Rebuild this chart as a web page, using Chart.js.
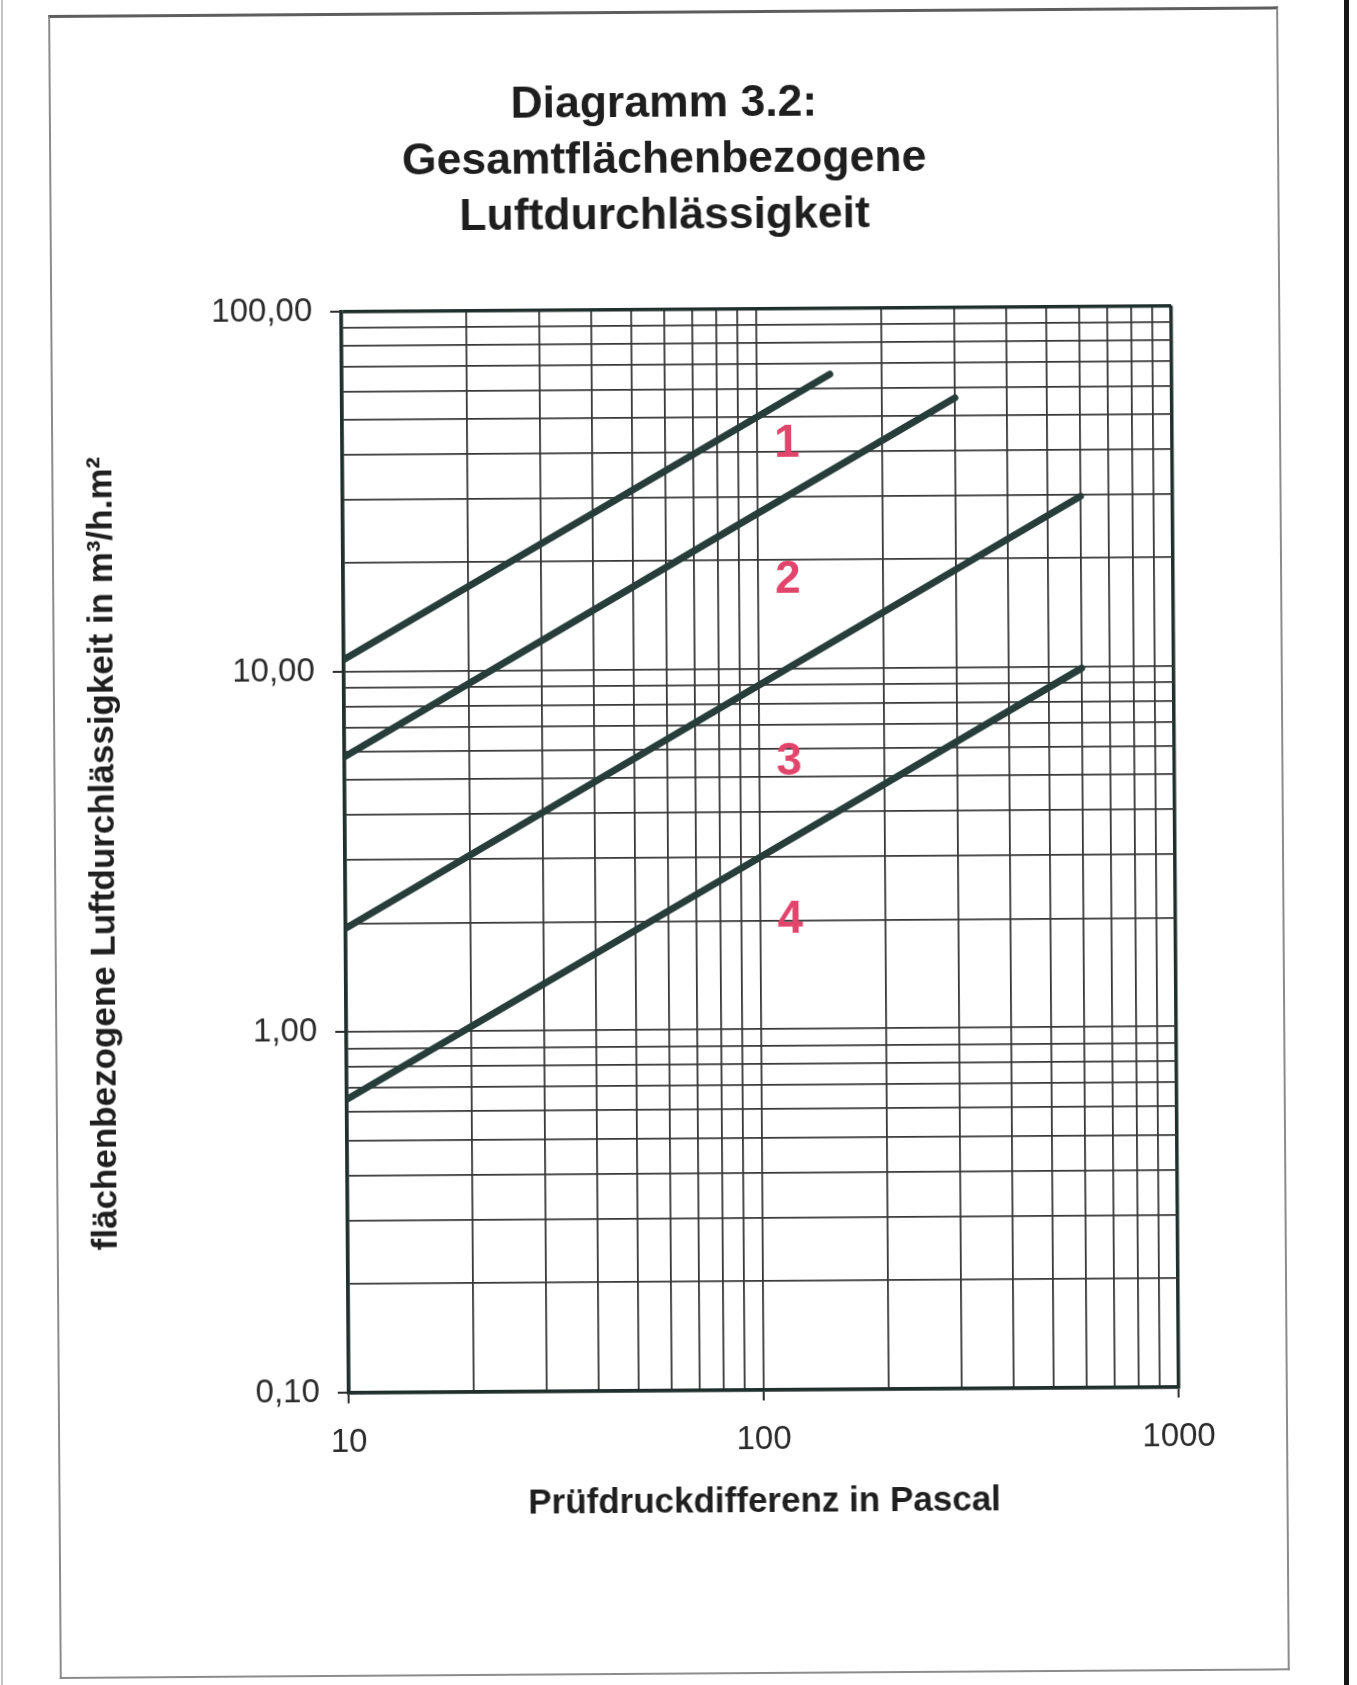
<!DOCTYPE html>
<html lang="de">
<head>
<meta charset="utf-8">
<title>Diagramm 3.2: Gesamtflächenbezogene Luftdurchlässigkeit</title>
<script src="https://cdn.jsdelivr.net/npm/chart.js@4/dist/chart.umd.min.js"></script>
<style>
  html, body { margin: 0; padding: 0; background: #fff; width: 1357px; height: 1685px; overflow: hidden; }
  #page { position: absolute; left: 0; top: 0; width: 1357px; height: 1685px;
          transform: rotate(-0.4deg); transform-origin: 760px 849px; }
  #frame { position: absolute; left: 54px; top: 10px; width: 1230px; height: 1664px; box-sizing: border-box;
           border: 2px solid #8c8c8c; border-top: 3px solid #5e5e5e; }
  #chart { position: absolute; left: 0; top: 0; }
  #edgeLeft { position: absolute; left: 1px; top: 0; width: 2px; height: 1685px; background: #c4c4c4; }
  #edgeRight { position: absolute; left: 1344px; top: 0; width: 5px; height: 1685px; background: #161616; }
</style>
</head>
<body>
<div id="edgeLeft"></div>
<div id="page">
  <div id="frame"></div>
  <canvas id="chart" width="1357" height="1685"></canvas>
</div>
<div id="edgeRight"></div>
<script>
// Prüfdruckdifferenz (Pa) und flächenbezogene Luftdurchlässigkeit (m³/h·m²) je Klasse
const klasse1Pa = [10, 100, 150];
const klasse1Q  = [10.8, 50, 65.5];
const klasse2Pa = [10, 100, 300];
const klasse2Q  = [5.8, 27, 56];
const klasse3Pa = [10, 100, 600];
const klasse3Q  = [1.94, 9, 29.7];
const klasse4Pa = [10, 100, 600];
const klasse4Q  = [0.65, 3, 9.9];

const klassenNamen = ['1', '2', '3', '4'];
const klassenPa = [klasse1Pa, klasse2Pa, klasse3Pa, klasse4Pa];
const klassenQ  = [klasse1Q, klasse2Q, klasse3Q, klasse4Q];

// Lage der Klassenziffern zwischen den Geraden (Pa / m³/h·m²)
const ziffernPa = [118, 118, 118, 118];
const ziffernQ  = [42, 17.6, 5.5, 2.0];

// Logarithmisches Raster und Achsbeschriftung
const xTicks = [10, 20, 30, 40, 50, 60, 70, 80, 90, 100, 200, 300, 400, 500, 600, 700, 800, 900, 1000];
const xMajor = [10, 100, 1000];
const xMajorLabels = ['10', '100', '1000'];
const yTicks = [0.1, 0.2, 0.3, 0.4, 0.5, 0.6, 0.7, 0.8, 0.9,
                1, 2, 3, 4, 5, 6, 7, 8, 9,
                10, 20, 30, 40, 50, 60, 70, 80, 90, 100];
const yMajor = [0.1, 1, 10, 100];
const yMajorLabels = ['0,10', '1,00', '10,00', '100,00'];

const FONT = '"Liberation Sans", Arial, Helvetica, sans-serif';
const INK = '#1f2f2b';
const GRID = '#383838';
const LINE = '#263d39';

const edgeWidth = (min, max) => ctx =>
  (ctx.tick && (ctx.tick.value === min || ctx.tick.value === max)) ? 3.5 : 1.8;
const edgeColor = (min, max) => ctx =>
  (ctx.tick && (ctx.tick.value === min || ctx.tick.value === max)) ? INK : GRID;
const tickMark = majors => ctx =>
  (ctx.tick && majors.includes(ctx.tick.value)) ? '#2a2a2a' : 'rgba(0,0,0,0)';

// Rote Klassenziffern 1–4
const klassenZiffern = {
  id: 'klassenZiffern',
  afterDatasetsDraw(chart) {
    const { ctx, scales: { x, y } } = chart;
    ctx.save();
    ctx.font = 'bold 46px ' + FONT;
    ctx.fillStyle = '#e2456b';
    ctx.textAlign = 'center';
    ctx.textBaseline = 'middle';
    klassenNamen.forEach((name, i) => {
      ctx.fillText(name, x.getPixelForValue(ziffernPa[i]), y.getPixelForValue(ziffernQ[i]));
    });
    ctx.restore();
  }
};

new Chart(document.getElementById('chart'), {
  type: 'scatter',
  data: {
    datasets: klassenPa.map((pa, i) => ({
      label: 'Klasse ' + klassenNamen[i],
      data: pa.map((p, j) => ({ x: p, y: klassenQ[i][j] })),
      showLine: true,
      borderColor: LINE,
      borderWidth: 7,
      borderCapStyle: 'round',
      borderJoinStyle: 'round',
      pointRadius: 0,
      pointHoverRadius: 0,
      tension: 0
    }))
  },
  options: {
    responsive: false,
    animation: false,
    devicePixelRatio: 1,
    layout: { padding: { left: 0, right: 19, top: 0, bottom: 0 } },
    plugins: {
      legend: { display: false },
      tooltip: { enabled: false },
      title: {
        display: true,
        text: ['Diagramm 3.2:', 'Gesamtflächenbezogene', 'Luftdurchlässigkeit'],
        color: '#1e1e1e',
        font: { family: FONT, size: 44.5, weight: 'bold', lineHeight: 1.256 },
        padding: { top: 76, bottom: 64.8 }
      }
    },
    scales: {
      x: {
        type: 'logarithmic',
        position: 'bottom',
        min: 10,
        max: 1000,
        afterBuildTicks: s => { s.ticks = xTicks.map(v => ({ value: v })); },
        afterFit: s => { s.height = 295.5; },
        ticks: {
          autoSkip: false, maxRotation: 0, minRotation: 0, padding: 19.7,
          color: '#2b2b2b',
          font: { family: FONT, size: 33 },
          callback: v => { const k = xMajor.indexOf(v); return k >= 0 ? xMajorLabels[k] : ''; }
        },
        grid: {
          color: edgeColor(10, 1000), lineWidth: edgeWidth(10, 1000),
          drawTicks: true, tickLength: 11, tickWidth: 2, tickColor: tickMark(xMajor)
        },
        border: { display: true, color: INK, width: 3.5 },
        title: {
          display: true,
          text: 'Prüfdruckdifferenz in Pascal',
          color: '#1f1f1f',
          font: { family: FONT, size: 35, weight: 'bold', lineHeight: 1.2 },
          padding: { top: 0, bottom: 162 }
        }
      },
      y: {
        type: 'logarithmic',
        position: 'left',
        min: 0.1,
        max: 100,
        afterBuildTicks: s => { s.ticks = yTicks.map(v => ({ value: v })); },
        afterFit: s => { s.width = 345; },
        ticks: {
          autoSkip: false, padding: 18,
          color: '#2b2b2b',
          font: { family: FONT, size: 33 },
          callback: v => { const k = yMajor.indexOf(v); return k >= 0 ? yMajorLabels[k] : ''; }
        },
        grid: {
          color: edgeColor(0.1, 100), lineWidth: edgeWidth(0.1, 100),
          drawTicks: true, tickLength: 11, tickWidth: 2, tickColor: tickMark(yMajor)
        },
        border: { display: true, color: INK, width: 3.5 },
        title: {
          display: true,
          text: 'flächenbezogene Luftdurchlässigkeit in m³/h.m²',
          color: '#1f1f1f',
          font: { family: FONT, size: 35, weight: 'bold', lineHeight: 1.2 },
          padding: { top: 83, bottom: 0 }
        }
      },
      rand: {
        type: 'linear',
        position: 'right',
        afterFit: s => { s.width = 163; },
        ticks: { display: false },
        grid: { display: false, drawTicks: false },
        border: { display: false }
      }
    }
  },
  plugins: [klassenZiffern]
});
</script>
</body>
</html>
